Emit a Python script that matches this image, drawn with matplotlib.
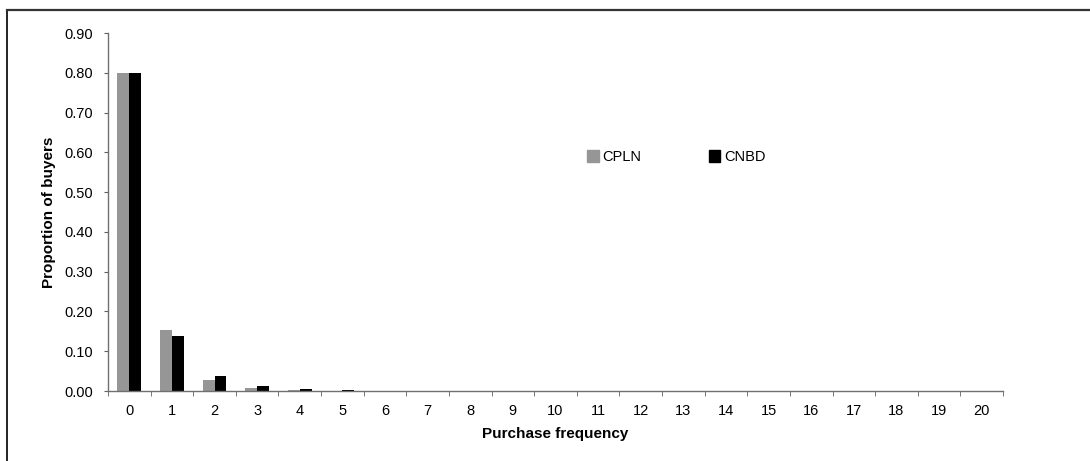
import numpy as np
import matplotlib.pyplot as plt
from matplotlib.lines import Line2D
from matplotlib.patches import Patch

plt.rcParams['font.family'] = ['Liberation Sans', 'DejaVu Sans']

# données
frequency = list(range(21))
cpln = [0.800, 0.153, 0.028, 0.007, 0.002, 0.001, 0.0005, 0.0003, 0.0002, 0.0001,
        0.0001, 0, 0, 0, 0, 0, 0, 0, 0, 0, 0]
cnbd = [0.800, 0.138, 0.038, 0.012, 0.004, 0.002, 0.001, 0.0005, 0.0003, 0.0002,
        0.0001, 0.0001, 0, 0, 0, 0, 0, 0, 0, 0, 0]
y_ticks = np.arange(0, 0.91, 0.10)

W, H = 1090, 461
fig = plt.figure(figsize=(W / 100, H / 100), dpi=100)

# cadre extérieur (gauche + haut)
fig.add_artist(Line2D([7 / W, 7 / W], [0, 1 - 10 / H], color='black', lw=1.2))
fig.add_artist(Line2D([7 / W, 1], [1 - 10 / H, 1 - 10 / H], color='#333333', lw=1.6))

ax = fig.add_axes([108 / W, 70 / H, (1003 - 108) / W, (391 - 33) / H])
x = np.arange(len(frequency))
bw = 0.28
ax.bar(x - bw / 2, cpln, width=bw, color='#969696', label='CPLN')
ax.bar(x + bw / 2, cnbd, width=bw, color='black', label='CNBD')

ax.set_xlim(-0.5, 20.5)
ax.set_ylim(0, 0.9)
ax.set_yticks(y_ticks)
ax.set_yticklabels([f'{v:.2f}' for v in y_ticks], fontsize=10.5)
ax.set_xticks(x)
ax.set_xticklabels([str(f) for f in frequency], fontsize=10.5)
ax.set_xticks(np.arange(-0.5, 21, 1), minor=True)
ax.tick_params(axis='x', which='major', length=0, pad=9)
ax.tick_params(axis='x', which='minor', length=3.5, color='#606060', direction='out')
ax.tick_params(axis='y', length=3, color='#606060', direction='out', pad=8)

for s in ['top', 'right']:
    ax.spines[s].set_visible(False)
for s in ['left', 'bottom']:
    ax.spines[s].set_color('#707070')
    ax.spines[s].set_linewidth(1.0)

ax.set_ylabel('Proportion of buyers', fontsize=11, fontweight='bold', labelpad=6)
ax.set_xlabel('Purchase frequency', fontsize=11, fontweight='bold', labelpad=7)

handles = [Patch(color='#969696'), Patch(color='black')]
fig.legend(handles, ['CPLN', 'CNBD'], loc='center left',
           bbox_to_anchor=(574 / W, 1 - 157 / H), ncol=2, frameon=False,
           fontsize=10.5, handlelength=0.8, handleheight=0.8, handletextpad=0.25,
           columnspacing=4.6)

fig.savefig('out.png', dpi=100)
